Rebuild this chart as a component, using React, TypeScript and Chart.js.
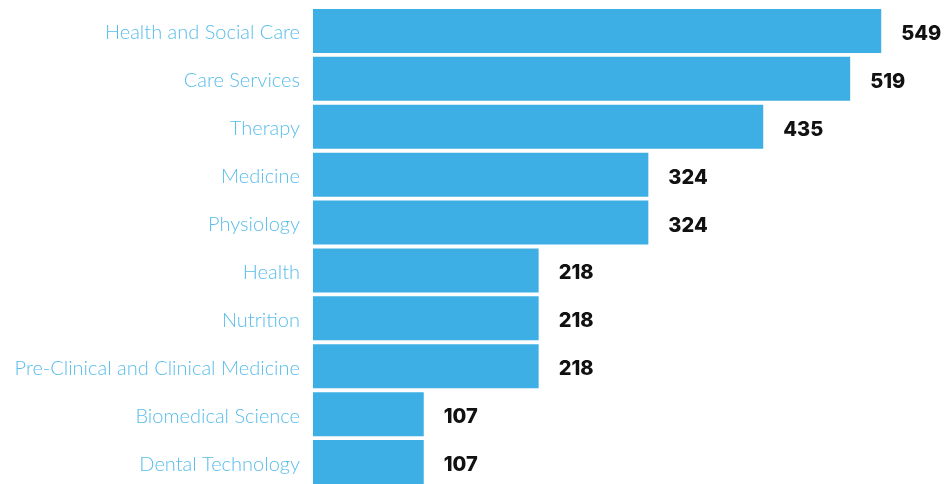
import React, { useEffect, useRef } from "react";
import { Chart, registerables } from "chart.js";

Chart.register(...registerables);

const categories = [
  "Health and Social Care",
  "Care Services",
  "Therapy",
  "Medicine",
  "Physiology",
  "Health",
  "Nutrition",
  "Pre-Clinical and Clinical Medicine",
  "Biomedical Science",
  "Dental Technology",
];
const values = [549, 519, 435, 324, 324, 218, 218, 218, 107, 107];

const BAR_COLOR = "#3eafe4";
const LABEL_COLOR = "#58bdea";

const valueLabels = {
  id: "valueLabels",
  afterDatasetsDraw(chart: any) {
    const ctx = chart.ctx;
    const meta = chart.getDatasetMeta(0);
    ctx.save();
    ctx.font = "800 20px Inter, 'Open Sans', sans-serif";
    ctx.fillStyle = "#111111";
    ctx.textAlign = "left";
    ctx.textBaseline = "middle";
    meta.data.forEach((bar: any, i: number) => {
      ctx.fillText(String(values[i]), bar.x + 20, bar.y + 3);
    });
    ctx.restore();
  },
};

export default function App() {
  const ref = useRef<HTMLCanvasElement | null>(null);
  useEffect(() => {
    let chart: Chart | null = null;
    let cancelled = false;
    const make = () => {
      if (cancelled || !ref.current) return;
      chart = new Chart(ref.current, {
        type: "bar",
        data: {
          labels: categories,
          datasets: [
            {
              data: values,
              backgroundColor: BAR_COLOR,
              borderWidth: 0,
              barPercentage: 0.918,
              categoryPercentage: 1,
            },
          ],
        },
        options: {
          indexAxis: "y",
          responsive: false,
          animation: false,
          layout: { padding: { top: 7, bottom: 2, left: 0, right: 10 } },
          plugins: {
            legend: { display: false },
            tooltip: { enabled: false },
          },
          scales: {
            x: { display: false, min: 0, max: 600 },
            y: {
              afterFit: (s: any) => {
                s.width = 313;
                s.paddingTop = 0;
                s.paddingBottom = 0;
              },
              grid: { display: false, drawTicks: false },
              border: { display: false },
              ticks: {
                color: LABEL_COLOR,
                padding: 13,
                labelOffset: 2,
                font: { family: "Lato", weight: 300 as any, size: 20 },
              },
            },
          },
        },
        plugins: [valueLabels],
      });
    };
    const f: any = (document as any).fonts;
    if (f && f.load) {
      Promise.all([f.load("300 20px Lato"), f.load("800 20px Inter")])
        .catch(() => null)
        .then(make);
    } else make();
    return () => {
      cancelled = true;
      if (chart) chart.destroy();
    };
  }, []);
  return (
    <div
      style={{
        position: "fixed",
        left: 0,
        top: 0,
        width: 944,
        height: 484,
        overflow: "hidden",
        background: "#fff",
      }}
    >
      <canvas ref={ref} width={944} height={488} style={{ display: "block" }} />
    </div>
  );
}
